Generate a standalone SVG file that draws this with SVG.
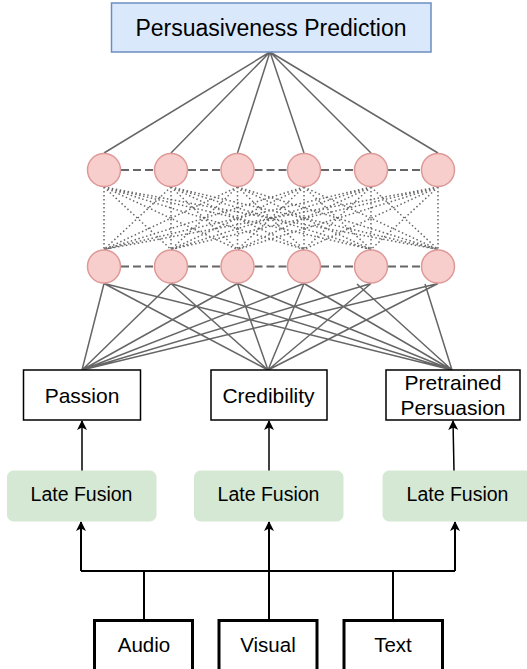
<svg xmlns="http://www.w3.org/2000/svg" width="527" height="669" viewBox="0 0 527 669">
<style>
text{font-family:"Liberation Sans",Arial,sans-serif;fill:#000;text-anchor:middle}
.g{stroke:#666;stroke-width:1.5;fill:none}
.dot{stroke:#666;stroke-width:1.5;fill:none;stroke-dasharray:1.5 2.5}
.dash{stroke:#666;stroke-width:2;fill:none;stroke-dasharray:8 4}
.k{stroke:#000;stroke-width:1.5;fill:none}
.kb{stroke:#000;stroke-width:2;fill:none}
.c{fill:#f8cecc;stroke:#dd9a98;stroke-width:1.5}
.box{fill:#fff;stroke:#000;stroke-width:1.5}
.bbox{fill:#fff;stroke:#000;stroke-width:3}
.lf{fill:#d5e8d4;stroke:#d5e8d4}
</style>
<defs>
<marker id="ah" viewBox="0 0 10 10" refX="9" refY="5" markerWidth="10" markerHeight="10" markerUnits="userSpaceOnUse" orient="auto">
<path d="M0,0 L10,5 L0,10 L2.5,5 z" fill="#000"/>
</marker>
</defs>
<g id="connectors">
<g id="top-lines">
<path class="g" d="M270,52 L104,153 M270,52 L171,153 M270,52 L237.5,153 M270,52 L304,153 M270,52 L371,153 M270,52 L438,153"/>
</g>
<g id="dotted">
<path class="dot" d="M104,187 L104,249.5 M104,187 L171,249.5 M104,187 L237.5,249.5 M104,187 L304,249.5 M104,187 L371,249.5 M104,187 L438,249.5
M171,187 L104,249.5 M171,187 L171,249.5 M171,187 L237.5,249.5 M171,187 L304,249.5 M171,187 L371,249.5 M171,187 L438,249.5
M237.5,187 L104,249.5 M237.5,187 L171,249.5 M237.5,187 L237.5,249.5 M237.5,187 L304,249.5 M237.5,187 L371,249.5 M237.5,187 L438,249.5
M304,187 L104,249.5 M304,187 L171,249.5 M304,187 L237.5,249.5 M304,187 L304,249.5 M304,187 L371,249.5 M304,187 L438,249.5
M371,187 L104,249.5 M371,187 L171,249.5 M371,187 L237.5,249.5 M371,187 L304,249.5 M371,187 L371,249.5 M371,187 L438,249.5
M438,187 L104,249.5 M438,187 L171,249.5 M438,187 L237.5,249.5 M438,187 L304,249.5 M438,187 L371,249.5 M438,187 L438,249.5"/>
</g>
<g id="dashed">
<path class="dash" d="M121,170 L154,170 M188,170 L220.5,170 M254.5,170 L287,170 M321,170 L354,170 M388,170 L421,170"/>
<path class="dash" d="M121,266.5 L154,266.5 M188,266.5 L220.5,266.5 M254.5,266.5 L287,266.5 M321,266.5 L354,266.5 M388,266.5 L421,266.5"/>
</g>
<g id="bottom-lines">
<path class="g" d="M104,283.5 L82,370 M104,283.5 L268,370 M104,283.5 L452,370
M171,283.5 L82,370 M171,283.5 L268,370 M171,283.5 L452,370
M237.5,283.5 L82,370 M237.5,283.5 L268,370 M237.5,283.5 L452,370
M304,283.5 L82,370 M304,283.5 L268,370 M304,283.5 L452,370
M371,283.5 L82,370 M371,283.5 L268,370 M357,284 L452,370
M438,283.5 L82,370 M438,283.5 L268,370 M425,284 L452,370"/>
</g>
<g id="arrows">
<line class="k" x1="82" y1="471" x2="82" y2="421" marker-end="url(#ah)"/>
<line class="k" x1="269" y1="471" x2="269" y2="421" marker-end="url(#ah)"/>
<line class="k" x1="454" y1="471" x2="453" y2="421" marker-end="url(#ah)"/>
<path class="kb" d="M81,571 L455,571"/>
<line class="kb" x1="81" y1="571" x2="81" y2="522" marker-end="url(#ah)"/>
<line class="kb" x1="269" y1="571" x2="269" y2="522" marker-end="url(#ah)"/>
<line class="kb" x1="455" y1="571" x2="455" y2="522" marker-end="url(#ah)"/>
<path class="kb" d="M144,571 L144,620 M269,571 L269,620 M393,571 L393,620"/>
</g>
</g>
<g id="prediction">
<rect x="111.5" y="3" width="319.5" height="49" fill="#dae8fc" stroke="#6c8ebf" stroke-width="1.5"/>
<text x="271" y="35.5" font-size="23">Persuasiveness Prediction</text>
</g>
<g id="hidden1">
<circle class="c" cx="104" cy="170" r="16.5"/>
<circle class="c" cx="171" cy="170" r="16.5"/>
<circle class="c" cx="237.5" cy="170" r="16.5"/>
<circle class="c" cx="304" cy="170" r="16.5"/>
<circle class="c" cx="371" cy="170" r="16.5"/>
<circle class="c" cx="438" cy="170" r="16.5"/>
</g>
<g id="hidden2">
<circle class="c" cx="104" cy="266.5" r="16.5"/>
<circle class="c" cx="171" cy="266.5" r="16.5"/>
<circle class="c" cx="237.5" cy="266.5" r="16.5"/>
<circle class="c" cx="304" cy="266.5" r="16.5"/>
<circle class="c" cx="371" cy="266.5" r="16.5"/>
<circle class="c" cx="438" cy="266.5" r="16.5"/>
</g>
<g id="passion">
<rect class="box" x="23.5" y="370" width="117" height="50"/>
<text x="82" y="402.5" font-size="21">Passion</text>
</g>
<g id="credibility">
<rect class="box" x="211" y="370" width="116" height="50"/>
<text x="268.5" y="402.5" font-size="21">Credibility</text>
</g>
<g id="pretrained">
<rect class="box" x="386" y="370" width="134" height="50"/>
<text x="453" y="389.5" font-size="21">Pretrained</text>
<text x="453" y="414.5" font-size="21">Persuasion</text>
</g>
<g id="fusion1">
<rect class="lf" x="7.5" y="471" width="148.5" height="50" rx="6"/>
<text x="81.5" y="501" font-size="19.5">Late Fusion</text>
</g>
<g id="fusion2">
<rect class="lf" x="194.5" y="471" width="148.5" height="50" rx="6"/>
<text x="268.5" y="501" font-size="19.5">Late Fusion</text>
</g>
<g id="fusion3">
<rect class="lf" x="383" y="471" width="150" height="50" rx="6"/>
<text x="457.5" y="501" font-size="19.5">Late Fusion</text>
</g>
<g id="audio">
<rect class="bbox" x="94.5" y="620.5" width="98" height="52"/>
<text x="144" y="652" font-size="20.5">Audio</text>
</g>
<g id="visual">
<rect class="bbox" x="219" y="620.5" width="98" height="52"/>
<text x="268" y="652" font-size="20.5">Visual</text>
</g>
<g id="text">
<rect class="bbox" x="344" y="620.5" width="98.5" height="52"/>
<text x="393" y="652" font-size="20.5">Text</text>
</g>
</svg>
